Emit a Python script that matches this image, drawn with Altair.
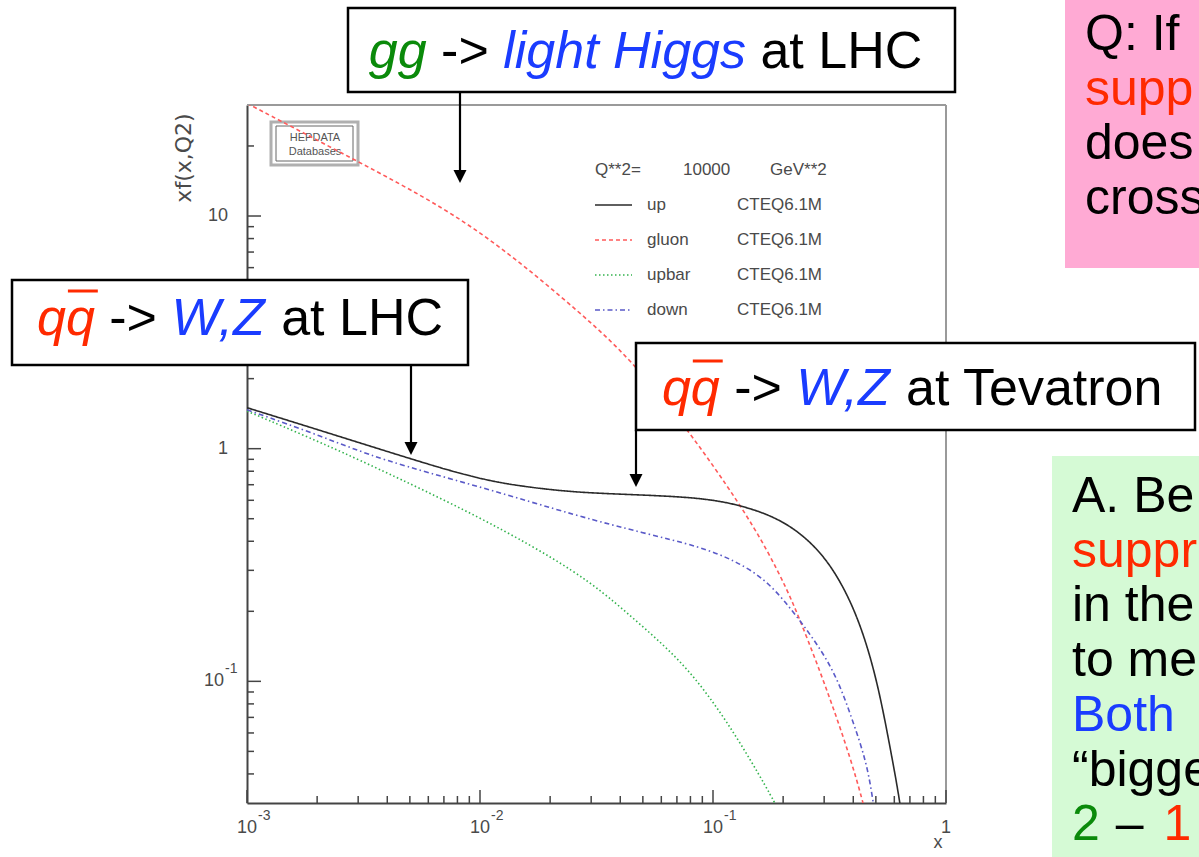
import altair as alt
import pandas as pd

# ---------------- data (CTEQ6.1M, Q**2 = 10000 GeV**2) ----------------
up_x = [0.001, 0.002, 0.0051, 0.01, 0.0165, 0.0268, 0.047, 0.088, 0.131, 0.2, 0.279, 0.351, 0.428, 0.506, 0.575, 0.635, 0.66]
up_y = [1.50, 1.21, 0.90, 0.736, 0.68, 0.647, 0.634, 0.616, 0.574, 0.495, 0.379, 0.274, 0.179, 0.1016, 0.0524, 0.0304, 0.022]

gluon_x = [0.001, 0.00285, 0.0072, 0.0139, 0.0269, 0.044, 0.0796, 0.131, 0.1706, 0.208, 0.236, 0.279, 0.327, 0.387, 0.44, 0.46]
gluon_y = [30.5, 17.6, 10.75, 6.7, 3.84, 2.45, 1.18, 0.574, 0.368, 0.248, 0.184, 0.120, 0.0778, 0.0475, 0.0304, 0.025]

upbar_x = [0.001, 0.002, 0.00337, 0.01, 0.0268, 0.0428, 0.070, 0.097, 0.1345, 0.1846, 0.19]
upbar_y = [1.45, 1.08, 0.853, 0.510, 0.293, 0.197, 0.128, 0.086, 0.0524, 0.0301, 0.028]

down_x = [0.001, 0.0021, 0.00372, 0.01, 0.0268, 0.050, 0.088, 0.122, 0.1706, 0.236, 0.327, 0.387, 0.458, 0.486, 0.50]
down_y = [1.47, 1.13, 0.897, 0.687, 0.51, 0.435, 0.379, 0.333, 0.274, 0.184, 0.1157, 0.0734, 0.0448, 0.0304, 0.026]

series_names = ["up", "gluon", "upbar", "down"]
pdf_set = "CTEQ6.1M"
q2_text = ["Q**2=", "10000", "GeV**2"]

# tick values and tick labels (base and exponent)
x_major = [0.001, 0.01, 0.1, 1]
x_label_base = ["10", "10", "10", "1"]
x_label_exp = ["-3", "-2", "-1", ""]
x_minor = [k * d for d in (0.001, 0.01, 0.1) for k in range(2, 10)]
y_major = [0.1, 1, 10]
y_label_base = ["10", "1", "10"]
y_label_exp = ["-1", "", ""]
y_minor = [0.04, 0.05, 0.06, 0.07, 0.08, 0.09] + [k * 0.1 for k in range(2, 10)] + list(range(2, 10)) + [20]

# ---------------- styling ----------------
SERIES_STYLE = {
    "up": dict(color="#2a2a2a", dash=[1, 0], width=1.6),
    "gluon": dict(color="#ff5a5a", dash=[4, 3], width=1.6),
    "upbar": dict(color="#33b34d", dash=[1.5, 2.5], width=1.6),
    "down": dict(color="#5a5ac8", dash=[5, 3, 1.5, 3], width=1.6),
}
RED, BLUE, GREEN, BLACK = "#ff2a00", "#1a3cff", "#0a8a0a", "#000000"
SLIDE_FONT = "Liberation Sans"
ROOT_FONT = "Liberation Sans"
GREY = "#4a4a4a"

L, T, W, H = 247, 105, 699, 698  # plot area on the page
xscale = alt.Scale(type="log", domain=[0.001, 1])
yscale = alt.Scale(type="log", domain=[0.03, 30])

one = pd.DataFrame({"k": [0]})

# Arial advance widths (1/1000 em) for laying out the coloured text segments
AW = {'g': 556, '-': 333, '>': 584, ' ': 278, 'l': 222, 'i': 222, 'h': 556, 't': 278, 'H': 722,
      's': 500, 'a': 556, 'L': 556, 'C': 722, 'q': 556, 'W': 944, ',': 278, 'Z': 611, 'T': 611,
      'e': 556, 'v': 500, 'r': 333, 'o': 556, 'n': 556, '2': 556, '1': 556, '–': 556}


def tw(s, size):
    return sum(AW.get(c, 556) for c in s) * size / 1000.0


def text_at(xp, yp, s, color, size, style="normal", align="left", baseline="alphabetic",
            angle=0, font=SLIDE_FONT, weight="normal"):
    return alt.Chart(one).mark_text(
        align=align, baseline=baseline, fontSize=size, fontStyle=style, fontWeight=weight,
        color=color, font=font, angle=angle, clip=False
    ).encode(x=alt.value(xp - L), y=alt.value(yp - T), text=alt.value(s))


def box_at(x0, y0, x1, y1, fill="white", stroke="black", sw=2.5):
    m = dict(clip=False, fill=fill, strokeWidth=sw)
    if stroke:
        m["stroke"] = stroke
    else:
        m["strokeWidth"] = 0
    return alt.Chart(one).mark_rect(**m).encode(
        x=alt.value(x0 - L), x2=alt.value(x1 - L), y=alt.value(y0 - T), y2=alt.value(y1 - T))


def rule_at(x0, y0, x1, y1, color="black", sw=2.0, dash=None):
    m = dict(clip=False, color=color, strokeWidth=sw)
    if dash:
        m["strokeDash"] = dash
    return alt.Chart(one).mark_rule(**m).encode(
        x=alt.value(x0 - L), x2=alt.value(x1 - L), y=alt.value(y0 - T), y2=alt.value(y1 - T))


def arrow(xp, y_from, y_tip):
    line = rule_at(xp, y_from, xp, y_tip - 8, sw=2.2)
    head = alt.Chart(one).mark_point(
        shape="M-1,-2L1,-2L0,0Z", size=169, filled=True, color="black", opacity=1, clip=False
    ).encode(x=alt.value(xp - L), y=alt.value(y_tip - T))
    return [line, head]


xaxis = alt.Axis(values=x_major, ticks=False, grid=False, labels=False, domainColor="#444444",
                 domainWidth=2, title=None)
yaxis = alt.Axis(values=y_major, ticks=False, grid=False, labels=False, domainColor="#444444",
                 domainWidth=2, title=None)

layers = []

# ---------------- frame (top/right grey) ----------------
layers.append(rule_at(L, T, L + W, T, color="#9a9a9a", sw=2))
layers.append(rule_at(L + W, T, L + W, T + H, color="#9a9a9a", sw=2))

# HEPDATA logo (drawn under the curves)
layers.append(box_at(271, 122, 358, 165, fill="transparent", stroke="#b0b0b0", sw=3))
layers.append(box_at(276, 126, 353, 161, fill="transparent", stroke="#666666", sw=1))
layers.append(text_at(315, 141, "HEPDATA", "#555555", 11, align="center", font=ROOT_FONT))
layers.append(text_at(315, 155, "Databases", "#555555", 11, align="center", font=ROOT_FONT))

# ---------------- inward ROOT-style ticks ----------------
xt = pd.concat([pd.DataFrame({"v": x_major, "kind": "major"}),
                pd.DataFrame({"v": x_minor, "kind": "minor"})], ignore_index=True)
yt = pd.concat([pd.DataFrame({"v": y_major, "kind": "major"}),
                pd.DataFrame({"v": y_minor, "kind": "minor"})], ignore_index=True)
for kind, ln in [("major", 13), ("minor", 7)]:
    layers.append(alt.Chart(xt[xt.kind == kind]).mark_rule(color="#444444", strokeWidth=1.5).encode(
        x=alt.X("v:Q", scale=xscale, axis=xaxis), y=alt.value(H), y2=alt.value(H - ln)))
for kind, ln in [("major", 14), ("minor", 7)]:
    layers.append(alt.Chart(yt[yt.kind == kind]).mark_rule(color="#444444", strokeWidth=1.5).encode(
        y=alt.Y("v:Q", scale=yscale, axis=yaxis), x=alt.value(0), x2=alt.value(ln)))

# ---------------- tick labels with real superscripts ----------------
xl = pd.DataFrame({"v": x_major, "base": x_label_base, "exp": x_label_exp})
yl_df = pd.DataFrame({"v": y_major, "base": y_label_base, "exp": y_label_exp})
layers.append(alt.Chart(xl).mark_text(align="center", baseline="middle", fontSize=18, font=ROOT_FONT,
                                      color=GREY, clip=False).encode(
    x=alt.X("v:Q", scale=xscale, axis=xaxis), y=alt.value(H + 25), text="base:N"))
layers.append(alt.Chart(xl).mark_text(align="left", baseline="middle", fontSize=14, font=ROOT_FONT,
                                      color=GREY, clip=False, dx=11).encode(
    x=alt.X("v:Q", scale=xscale, axis=xaxis), y=alt.value(H + 13), text="exp:N"))
y_plain = yl_df[yl_df.exp == ""]
y_sup = yl_df[yl_df.exp != ""]
layers.append(alt.Chart(y_plain).mark_text(align="right", baseline="middle", fontSize=18, font=ROOT_FONT,
                                           color=GREY, clip=False).encode(
    y=alt.Y("v:Q", scale=yscale, axis=yaxis), x=alt.value(-19), text="base:N"))
layers.append(alt.Chart(y_sup).mark_text(align="right", baseline="middle", fontSize=18, font=ROOT_FONT,
                                         color=GREY, clip=False).encode(
    y=alt.Y("v:Q", scale=yscale, axis=yaxis), x=alt.value(-23), text="base:N"))
layers.append(alt.Chart(y_sup).mark_text(align="left", baseline="middle", fontSize=14, font=ROOT_FONT,
                                         color=GREY, clip=False, dy=-12).encode(
    y=alt.Y("v:Q", scale=yscale, axis=yaxis), x=alt.value(-22), text="exp:N"))

# ---------------- curves ----------------
frames = []
for name, xs, ys in [("up", up_x, up_y), ("gluon", gluon_x, gluon_y),
                     ("upbar", upbar_x, upbar_y), ("down", down_x, down_y)]:
    frames.append(pd.DataFrame({"series": name, "x": xs, "y": ys}))
curves = pd.concat(frames, ignore_index=True)

for name in ["gluon", "upbar", "down", "up"]:
    st = SERIES_STYLE[name]
    layers.append(
        alt.Chart(curves[curves.series == name]).mark_line(
            color=st["color"], strokeDash=st["dash"], strokeWidth=st["width"],
            interpolate="basis", clip=True
        ).encode(
            x=alt.X("x:Q", scale=xscale, axis=xaxis),
            y=alt.Y("y:Q", scale=yscale, axis=yaxis),
            order=alt.Order("x:Q"),
        )
    )

# axis titles
layers.append(text_at(184, 158, "xf(x,Q2)", GREY, 22, align="center", baseline="middle",
                      angle=270, font="DejaVu Sans"))
layers.append(text_at(938, 843, "x", GREY, 18, align="center", baseline="middle", font=ROOT_FONT))

# ---------------- in-plot legend ----------------
layers.append(text_at(595, 170, q2_text[0], GREY, 17, baseline="middle", font=ROOT_FONT))
layers.append(text_at(683, 170, q2_text[1], GREY, 17, baseline="middle", font=ROOT_FONT))
layers.append(text_at(770, 170, q2_text[2], GREY, 17, baseline="middle", font=ROOT_FONT))
for i, name in enumerate(series_names):
    yy = 205 + 35 * i
    st = SERIES_STYLE[name]
    layers.append(rule_at(595, yy, 632, yy, color=st["color"], sw=st["width"],
                          dash=st["dash"] if name != "up" else None))
    layers.append(text_at(647, yy, name, GREY, 17, baseline="middle", font=ROOT_FONT))
    layers.append(text_at(737, yy, pdf_set, GREY, 17, baseline="middle", font=ROOT_FONT))

# ---------------- side panels ----------------
layers.append(box_at(1065, 0, 1210, 268, fill="#ffaad4", stroke=None))
layers.append(box_at(1052, 456, 1210, 870, fill="#d5fad5", stroke=None))

q_lines = [("Q: If", BLACK), ("supp", RED), ("does", BLACK), ("cross", BLACK)]
for i, (s, c) in enumerate(q_lines):
    layers.append(text_at(1085, 50 + 54.5 * i, s, c, 50))

a_lines = [("A. Be", BLACK), ("suppr", RED), ("in the", BLACK), ("to me", BLACK),
           ("Both", BLUE), ("\u201cbigge", BLACK)]
for i, (s, c) in enumerate(a_lines):
    layers.append(text_at(1072, 512 + 54.7 * i, s, c, 50))
yl = 512 + 54.7 * 6
layers.append(text_at(1072, yl, "2", GREEN, 50))
layers.append(text_at(1072 + tw("2 ", 50) + 2, yl, "–", BLACK, 50))
layers.append(text_at(1072 + tw("2 – ", 50) + 8, yl, "1", RED, 50))

# ---------------- annotation boxes with arrows ----------------
FS = 52


def label_segments(x0, base, segs):
    out = []
    x = x0
    for s, c, style in segs:
        out.append(text_at(x, base, s, c, FS, style=style))
        x += tw(s + " ", FS)
    return out


def seg_width(segs):
    return tw(" ".join(s for s, _, _ in segs), FS)


# gg -> light Higgs at LHC
segA = [("gg", GREEN, "italic"), ("->", BLACK, "normal"), ("light Higgs", BLUE, "italic"),
        ("at LHC", BLACK, "normal")]
layers.append(box_at(348, 8, 955, 92))
layers += label_segments((348 + 955) / 2 - seg_width(segA) / 2 - 6, 68, segA)
layers += arrow(460, 92, 183)

# qqbar -> W,Z at LHC
segB = [("qq", RED, "italic"), ("->", BLACK, "normal"), ("W,Z", BLUE, "italic"),
        ("at LHC", BLACK, "normal")]
layers.append(box_at(12, 280, 468, 365))
xb = (12 + 468) / 2 - seg_width(segB) / 2
layers += label_segments(xb, 335, segB)
layers.append(rule_at(xb + tw("q", FS) + 2, 291, xb + tw("qq", FS) + 3, 291, color=RED, sw=3))
layers += arrow(411, 365, 455)

# qqbar -> W,Z at Tevatron
segC = [("qq", RED, "italic"), ("->", BLACK, "normal"), ("W,Z", BLUE, "italic"),
        ("at Tevatron", BLACK, "normal")]
layers.append(box_at(636, 343, 1195, 430))
xc = (636 + 1195) / 2 - seg_width(segC) / 2
layers += label_segments(xc, 405, segC)
layers.append(rule_at(xc + tw("q", FS) + 2, 361, xc + tw("qq", FS) + 3, 361, color=RED, sw=3))
layers += arrow(636, 430, 487)

chart = alt.layer(*layers).properties(
    width=W, height=H,
    padding={"left": L, "top": T, "right": 1199 - L - W, "bottom": 857 - T - H},
    autosize=alt.AutoSizeParams(type="none"),
    background="white",
).configure_view(stroke=None)

chart.save("out.html", embed_options={"renderer": "svg", "actions": False})
